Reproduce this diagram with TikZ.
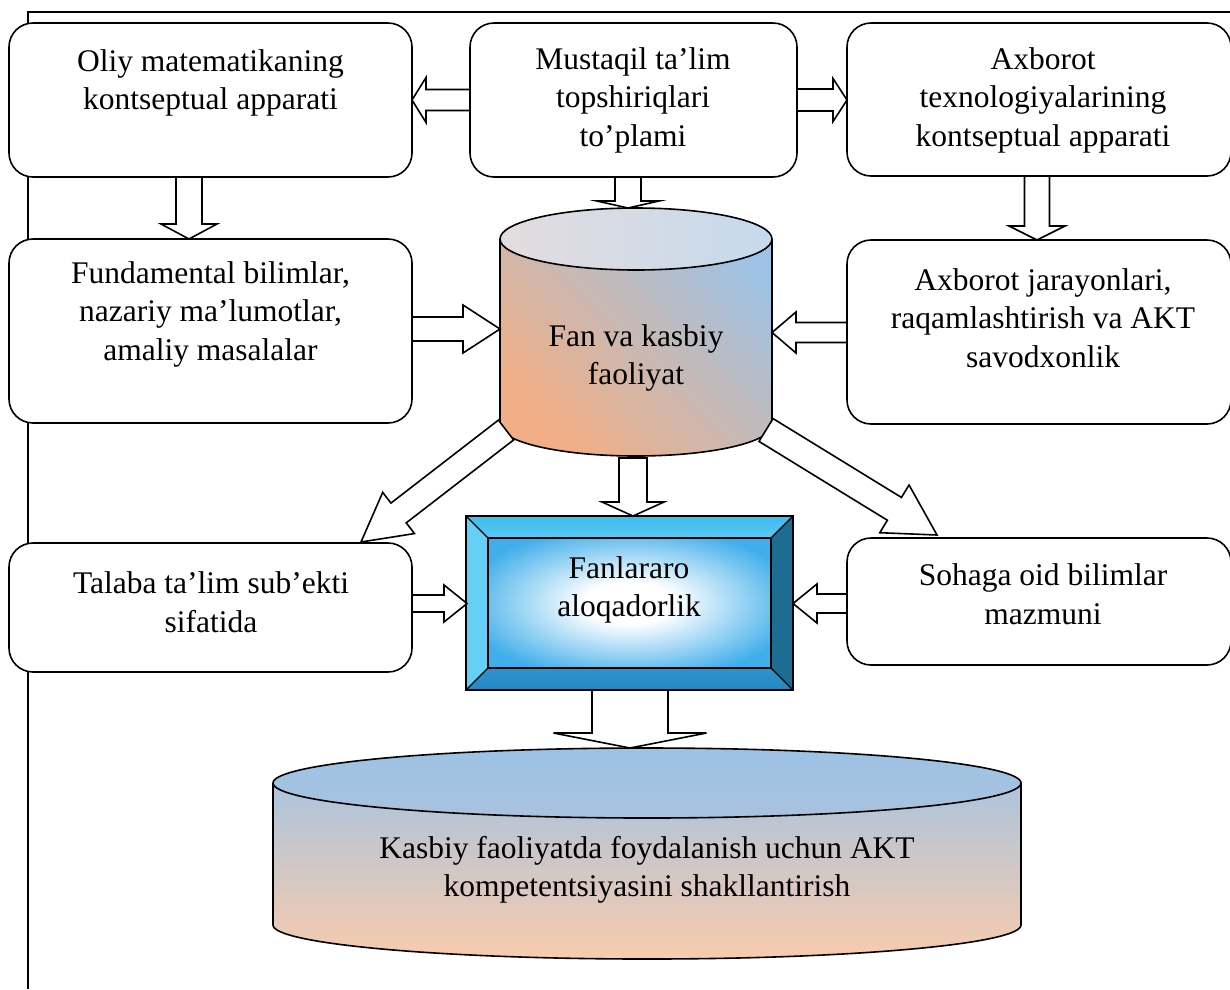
\documentclass[tikz,border=0pt]{standalone}
\usepackage{fontspec}
\setmainfont{Liberation Serif}
\usetikzlibrary{calc}
\definecolor{cblue}{HTML}{9DC3E6}
\definecolor{cpeach}{HTML}{F2AE84}
\definecolor{bpeach}{HTML}{F8CBAD}
\definecolor{topl}{HTML}{E3DCDD}
\definecolor{topr}{HTML}{C5DAEE}
\definecolor{bevtop}{HTML}{3CBDF0}
\definecolor{bevtopb}{HTML}{5BC8F2}
\definecolor{bevleft}{HTML}{66CFF6}
\definecolor{bevright}{HTML}{1D6C92}
\definecolor{bevbot}{HTML}{2F93CB}
\definecolor{bevbotb}{HTML}{2788C0}
\definecolor{innerblue}{HTML}{3FAEEA}
\definecolor{bigtop}{HTML}{9CC2E5}
\definecolor{bigtopb}{HTML}{A9C2DE}
\pgfdeclareradialshading{bevinner}{\pgfpoint{0bp}{0bp}}{color(0bp)=(white); color(8bp)=(white); color(30bp)=(innerblue); color(50bp)=(innerblue)}
\tikzset{
  boxstyle/.style={draw, line width=1.6pt, rounded corners=24pt, fill=white, inner sep=0pt},
  txt/.style={font=\fontsize{31.5}{38.5}\selectfont, align=center, inner sep=0pt},
  barrow/.style={draw, line width=1.6pt, fill=white, line join=miter},
  outl/.style={draw, line width=1.6pt},
}
\newcommand\blockarrow[5]{%
  \coordinate (hb) at ($(#2)!#5pt!(#1)$);
  \draw[barrow] ($(#1)!#3pt!90:(#2)$) -- ($(hb)!#3pt!90:(#2)$) -- ($(hb)!#4pt!90:(#2)$) -- (#2)
    -- ($(hb)!#4pt!-90:(#2)$) -- ($(hb)!#3pt!-90:(#2)$) -- ($(#1)!#3pt!-90:(#2)$) -- cycle;
}
\begin{document}
\begin{tikzpicture}[x=1pt,y=-1pt]
\useasboundingbox (0,0) rectangle (1230,989);
% frame
\coordinate (fa) at (28,989);
\coordinate (fb) at (28,12);
\coordinate (fc) at (1230,12);
\draw[line width=1.5pt] (fa) -- (fb) -- (fc);

% boxes
\node[boxstyle, minimum width=403pt, minimum height=154pt] (b1) at (210.5,100) {};
\node[boxstyle, minimum width=327pt, minimum height=154pt] (b2) at (633.5,100) {};
\node[boxstyle, minimum width=384pt, minimum height=153pt] (b3) at (1039,99.5) {};
\node[boxstyle, minimum width=403pt, minimum height=184pt] (b4) at (210.5,331) {};
\node[boxstyle, minimum width=384pt, minimum height=184pt] (b5) at (1039,332) {};
\node[boxstyle, minimum width=403pt, minimum height=129pt] (b6) at (210.5,607.5) {};
\node[boxstyle, minimum width=384pt, minimum height=127pt] (b7) at (1039,601.5) {};

% small cylinder
\node[minimum width=272pt, minimum height=248pt, inner sep=0pt] (cyl) at (636,332) {};
\path[top color=cpeach, bottom color=cblue, shading angle=135]
  (500,239) -- (500,425) arc[start angle=180, end angle=360, x radius=136pt, y radius=31pt]
  -- (772,239) arc[start angle=0, end angle=180, x radius=136pt, y radius=31pt] -- cycle;
\draw[outl] (500,239) -- (500,425) arc[start angle=180, end angle=360, x radius=136pt, y radius=31pt]
  -- (772,239);
\draw[outl, left color=topl, right color=topr] (636,239) ellipse (136pt and 31pt);

% big cylinder
\node[minimum width=748pt, minimum height=211pt, inner sep=0pt] (big) at (647,853) {};
\path[top color=cblue, bottom color=bpeach]
  (273,783) -- (273,925) arc[start angle=180, end angle=360, x radius=374pt, y radius=34pt]
  -- (1021,783) arc[start angle=0, end angle=180, x radius=374pt, y radius=35pt] -- cycle;
\draw[outl] (273,783) -- (273,925) arc[start angle=180, end angle=360, x radius=374pt, y radius=34pt]
  -- (1021,783);
\draw[outl, top color=bigtop, bottom color=bigtopb] (647,783) ellipse (374pt and 35pt);

% bevel box
\node[minimum width=327pt, minimum height=174pt, inner sep=0pt] (bev) at (629.5,603) {};
\path[top color=bevtop, bottom color=bevtopb] (466,516) -- (793,516) -- (771,538) -- (488,538) -- cycle;
\path[fill=bevleft] (466,516) -- (488,538) -- (488,668) -- (466,690) -- cycle;
\path[fill=bevright] (793,516) -- (771,538) -- (771,668) -- (793,690) -- cycle;
\path[top color=bevbot, bottom color=bevbotb] (466,690) -- (488,668) -- (771,668) -- (793,690) -- cycle;
\shade[shading=bevinner] (488,538) rectangle (771,668);
\draw[line width=1.5pt] (466,516) rectangle (793,690);
\draw[line width=1.5pt] (488,538) rectangle (771,668);
\draw[line width=1.2pt] (466,516) -- (488,538) (793,516) -- (771,538) (466,690) -- (488,668) (793,690) -- (771,668);

% arrow end points
\coordinate (a1s) at (470,100);   \coordinate (a1e) at (412,100);
\coordinate (a2s) at (797,100);   \coordinate (a2e) at (847,100);
\coordinate (a3s) at (189,177);   \coordinate (a3e) at (189,239);
\coordinate (a4s) at (1037,176);  \coordinate (a4e) at (1037,240);
\coordinate (a5s) at (628,177);   \coordinate (a5e) at (628,208);
\coordinate (a6s) at (412,329);   \coordinate (a6e) at (500,329);
\coordinate (a7s) at (847,332.5); \coordinate (a7e) at (772,332.5);
\coordinate (a8s) at (633,458);   \coordinate (a8e) at (633,516);
\coordinate (a9s) at (506,430);   \coordinate (a9e) at (361,542);
\coordinate (a10s) at (766,430);  \coordinate (a10e) at (937,535);
\coordinate (a11s) at (412,603.5);\coordinate (a11e) at (467,603.5);
\coordinate (a12s) at (847,603.5);\coordinate (a12e) at (793,603.5);
\coordinate (a13s) at (630,690);  \coordinate (a13e) at (630,748);

\blockarrow{a1s}{a1e}{10.5}{22.5}{14}
\blockarrow{a2s}{a2e}{11}{21.5}{14}
\blockarrow{a3s}{a3e}{13}{28}{15}
\blockarrow{a4s}{a4e}{12.5}{28}{14}
\blockarrow{a5s}{a5e}{13}{31}{7}
\blockarrow{a6s}{a6e}{12}{24}{37}
\blockarrow{a7s}{a7e}{10}{20.5}{24}
\blockarrow{a8s}{a8e}{14}{31}{14}
\blockarrow{a9s}{a9e}{12.5}{26}{47.5}
\blockarrow{a10s}{a10e}{13.4}{28}{50}
\blockarrow{a11s}{a11e}{8.5}{18.5}{23}
\blockarrow{a12s}{a12e}{9.5}{19.5}{24}
\blockarrow{a13s}{a13e}{38}{76.5}{15}

% texts
\node[txt] (t1) at (210.5,83) {Oliy matematikaning\\kontseptual apparati};
\node[txt] (t2) at (633,100) {Mustaqil ta’lim\\topshiriqlari\\to’plami};
\node[txt] (t3) at (1043,100) {Axborot\\texnologiyalarining\\kontseptual apparati};
\node[txt] (t4) at (210.5,314) {Fundamental bilimlar,\\nazariy ma’lumotlar,\\amaliy masalalar};
\node[txt] (t5) at (1043,318) {Axborot jarayonlari,\\raqamlashtirish va AKT\\savodxonlik};
\node[txt] (tc) at (636,358) {Fan va kasbiy\\faoliyat};
\node[txt] (tb) at (629,590) {Fanlararo\\aloqadorlik};
\node[txt] (t6) at (211,602) {Talaba ta’lim sub’ekti\\sifatida};
\node[txt] (t7) at (1043,594) {Sohaga oid bilimlar\\mazmuni};
\node[txt] (tbig) at (647,870) {Kasbiy faoliyatda foydalanish uchun AKT\\kompetentsiyasini shakllantirish};
\end{tikzpicture}
\end{document}
